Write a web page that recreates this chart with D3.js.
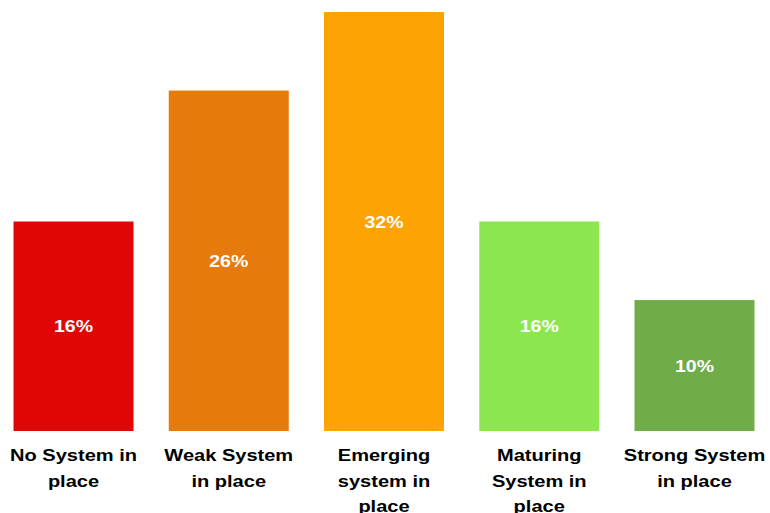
<!DOCTYPE html>
<html>
<head>
<meta charset="utf-8">
<script src="https://cdn.jsdelivr.net/npm/d3@7"></script>
<style>
  html, body { margin: 0; padding: 0; background: #ffffff; }
  svg { display: block; }
  text { font-family: "Liberation Sans", Arial, sans-serif; font-weight: bold; }
</style>
</head>
<body>
<svg id="chart" width="770" height="513"></svg>
<script>
// Maturity of the system, share of respondents per stage
const categories = [
  "No System in\nplace",
  "Weak System\nin place",
  "Emerging\nsystem in\nplace",
  "Maturing\nSystem in\nplace",
  "Strong System\nin place"
];
const values = [16, 26, 32, 16, 10];
const valueLabels = ["16%", "26%", "32%", "16%", "10%"];
const colors = ["#E10606", "#E67A0A", "#FDA304", "#8CE74F", "#70AC48"];

const svg = d3.select("#chart");

const x = d3.scaleBand()
  .domain(categories)
  .range([13.5, 754.5])
  .paddingInner(0.227)
  .paddingOuter(0);

const y = d3.scaleLinear()
  .domain([0, 32])
  .range([431, 12]);

// bars
svg.append("g")
  .selectAll("rect")
  .data(categories)
  .join("rect")
  .attr("x", d => x(d))
  .attr("width", x.bandwidth())
  .attr("y", (d, i) => y(values[i]))
  .attr("height", (d, i) => y(0) - y(values[i]))
  .attr("fill", (d, i) => colors[i]);

// value labels centred in each bar
svg.append("g")
  .selectAll("text")
  .data(categories)
  .join("text")
  .attr("transform", (d, i) => {
    const cx = x(d) + x.bandwidth() / 2;
    const cy = (y(values[i]) + y(0)) / 2;
    return `translate(${cx},${cy + 6}) scale(1.22,1)`;
  })
  .attr("text-anchor", "middle")
  .attr("font-size", 16)
  .attr("fill", "#ffffff")
  .text((d, i) => valueLabels[i]);

// category labels under the bars
const cat = svg.append("g")
  .selectAll("g")
  .data(categories)
  .join("g")
  .attr("transform", d => `translate(${x(d) + x.bandwidth() / 2},0)`);

cat.each(function (d) {
  const lines = d.split("\n");
  d3.select(this).selectAll("text")
    .data(lines)
    .join("text")
    .attr("transform", (l, j) => `translate(0,${461 + j * 25.5}) scale(1.18,1)`)
    .attr("text-anchor", "middle")
    .attr("font-size", 17)
    .attr("fill", "#000000")
    .text(l => l);
});
</script>
</body>
</html>
